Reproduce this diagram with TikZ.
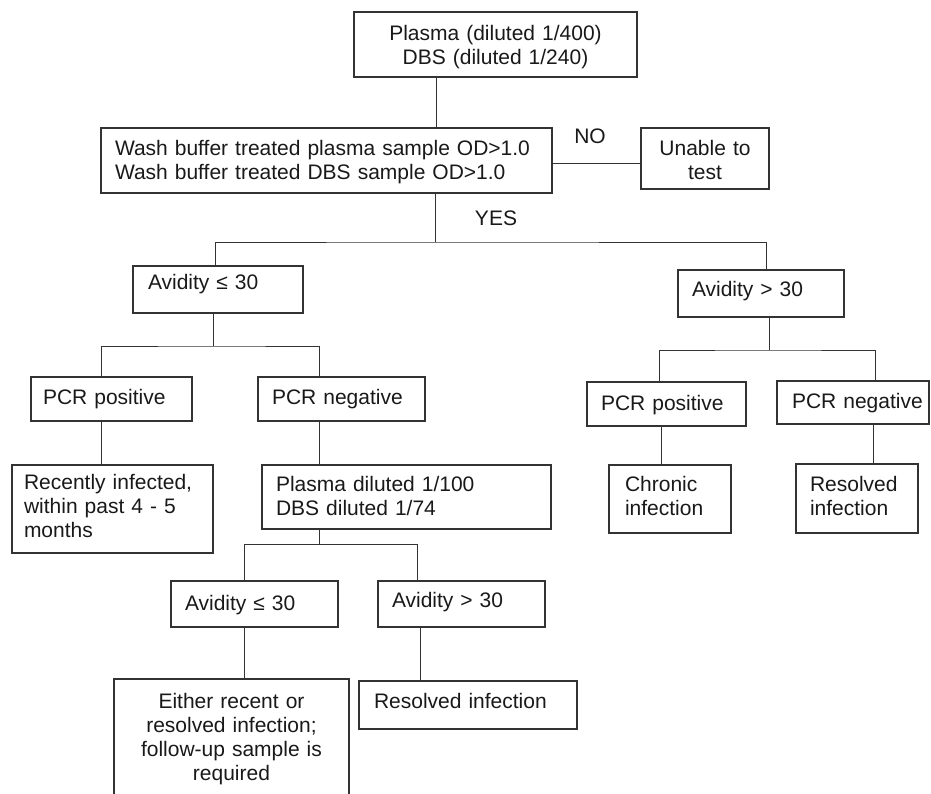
\documentclass[tikz,border=0pt]{standalone}
\usepackage{fontspec}
\setmainfont{Liberation Sans}
\begin{document}
\begin{tikzpicture}[x=1pt,y=-1pt,
  bx/.style={draw=black!80, line width=1.2pt, anchor=north west, outer sep=0pt, inner ysep=0pt,
             minimum width=0pt, minimum height=0pt, font=\fontsize{21}{24}\selectfont, text=black!90},
  bl/.style={bx, align=left},
  bc/.style={bx, align=center},
  ln/.style={draw=black!80, line width=1pt},
  lab/.style={inner sep=0pt, font=\fontsize{21}{24}\selectfont, text=black!90}]
\clip (0,0) rectangle (931,793);

% boxes
\node[bc, text width=263pt, inner xsep=10pt, text height=28pt, text depth=37pt] (top) at (354,12)
  {Plasma (diluted 1/400)\\DBS (diluted 1/240)};
\node[bl, text width=423pt, inner xsep=14pt, text height=27pt, text depth=38pt] (wash) at (101,128)
  {Wash buffer treated plasma sample OD>1.0\\Wash buffer treated DBS sample OD>1.0};
\node[bc, text width=112pt, inner xsep=8pt, text height=27pt, text depth=34pt] (unable) at (641,128)
  {Unable to\\test};
\node[bl, text width=140pt, inner xsep=15pt, text height=23pt, text depth=24pt] (a1) at (133,266)
  {Avidity ≤ 30};
\node[bl, text width=138pt, inner xsep=14pt, text height=26pt, text depth=21pt] (a2) at (678,270)
  {Avidity > 30};
\node[bl, text width=137pt, inner xsep=12pt, text height=27pt, text depth=17pt] (p1) at (31,377)
  {\mbox{PCR positive}};
\node[bl, text width=139pt, inner xsep=14pt, text height=27pt, text depth=17pt] (n1) at (258,377)
  {\mbox{PCR negative}};
\node[bl, text width=131pt, inner xsep=14pt, text height=28pt, text depth=16pt] (p3) at (587,382)
  {\mbox{PCR positive}};
\node[bl, text width=122pt, inner xsep=15pt, text height=27pt, text depth=16pt] (n3) at (777,381)
  {\mbox{PCR negative}};
\node[bl, text width=177pt, inner xsep=12pt, text height=24pt, text depth=64pt] (r1) at (12,465)
  {Recently infected,\\within past 4 - 5\\months};
\node[bl, text width=261pt, inner xsep=14pt, text height=26pt, text depth=38pt] (pd) at (262,465)
  {Plasma diluted 1/100\\DBS diluted 1/74};
\node[bl, text width=90pt, inner xsep=16pt, text height=26pt, text depth=42pt] (ch) at (609,465)
  {Chronic\\infection};
\node[bl, text width=94pt, inner xsep=14pt, text height=27pt, text depth=42pt] (r3) at (796,464)
  {Resolved\\infection};
\node[bl, text width=139pt, inner xsep=14pt, text height=29pt, text depth=17pt] (a3) at (171,581)
  {Avidity ≤ 30};
\node[bl, text width=139pt, inner xsep=14pt, text height=26pt, text depth=20pt] (a4) at (378,581)
  {Avidity > 30};
\node[bc, text width=219pt, inner xsep=8pt, text height=29pt, text depth=111pt] (e) at (114,679)
  {Either recent or\\resolved infection;\\follow-up sample is\\required};
\node[bl, text width=188pt, inner xsep=15pt, text height=27pt, text depth=21pt] (r2) at (359,681)
  {\mbox{Resolved infection}};

% labels
\node[lab] (no) at (590,136) {NO};
\node[lab] (yes) at (496,218) {YES};

% junction coordinates
\coordinate (xc1) at (436,0);
\coordinate (yno) at (0,163);
\coordinate (j1) at (435,242);
\coordinate (xa1) at (215,0);
\coordinate (xa2) at (766,0);
\coordinate (j2) at (213,346);
\coordinate (xp1) at (101,0);
\coordinate (xn1) at (319,0);
\coordinate (j3) at (319,544);
\coordinate (xa3) at (244,0);
\coordinate (xa4) at (417,0);
\coordinate (xr2) at (420,0);
\coordinate (j4) at (769,350);
\coordinate (xp3) at (659,0);
\coordinate (xn3) at (875,0);
\coordinate (xch) at (661,0);
\coordinate (xr3) at (873,0);

% connectors
\draw[ln] (top.south -| xc1) -- (wash.north -| xc1);
\draw[ln] (wash.east |- yno) -- (unable.west |- yno);
\draw[ln] (wash.south -| j1) -- (j1);
\draw[ln] (a1.north -| xa1) |- (j1) -| (a2.north -| xa2);
\draw[ln] (a1.south -| j2) -- (j2);
\draw[ln] (p1.north -| xp1) |- (j2) -| (n1.north -| xn1);
\draw[ln] (p1.south -| xp1) -- (r1.north -| xp1);
\draw[ln] (n1.south -| xn1) -- (pd.north -| xn1);
\draw[ln] (pd.south -| j3) -- (j3);
\draw[ln] (a3.north -| xa3) |- (j3) -| (a4.north -| xa4);
\draw[ln] (a3.south -| xa3) -- (e.north -| xa3);
\draw[ln] (a4.south -| xr2) -- (r2.north -| xr2);
\draw[ln] (a2.south -| j4) -- (j4);
\draw[ln] (p3.north -| xp3) |- (j4) -| (n3.north -| xn3);
\draw[ln] (p3.south -| xch) -- (ch.north -| xch);
\draw[ln] (n3.south -| xr3) -- (r3.north -| xr3);
\end{tikzpicture}
\end{document}
